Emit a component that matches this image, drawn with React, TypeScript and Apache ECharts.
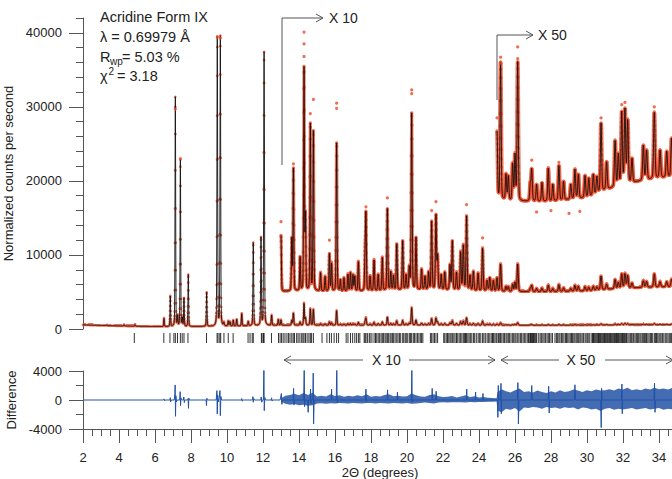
import { useEffect, useRef } from 'react';
import * as echarts from 'echarts';

const FONT = '"Liberation Sans", Arial, Helvetica, sans-serif';

// ---- Background of the powder pattern (raw counts) ----
const bgX = [2, 3, 4, 5, 6, 7, 8, 9, 10, 11, 12, 13, 14, 16, 18, 20, 22, 24, 25, 26, 28, 30, 31, 32, 33, 34, 35];
const bgY = [560, 480, 420, 370, 330, 320, 330, 350, 380, 420, 460, 500, 515, 510, 515, 530, 530, 515, 510, 505, 505, 515, 535, 550, 560, 568, 572];

// ---- Peaks: position (2θ) and height above background (raw counts) ----
const peakPos = [
  3.33, 4.28, 4.89, 6.5, 6.85, 7.13, 7.26, 7.41, 7.52, 7.61, 7.85, 8.87, 9.46, 9.63, 9.83, 10.07, 10.17, 10.35, 10.54, 10.82,
  11.18, 11.46, 11.89, 12.06, 12.48, 12.85, 13.0, 13.6, 13.69, 14.06, 14.28, 14.36, 14.63, 14.8, 15.2, 15.45, 15.69, 15.81,
  16.09, 16.3, 16.5, 16.72, 16.86, 17.0, 17.1, 17.3, 17.67, 17.72, 17.95, 18.17, 18.4, 18.63, 18.91, 19.1, 19.25, 19.43,
  19.76, 19.95, 20.13, 20.26, 20.5, 20.81, 21.0, 21.2, 21.37, 21.61, 21.7, 21.9, 22.1, 22.39, 22.52, 22.75, 22.98, 23.13,
  23.31, 23.5, 23.69, 23.95, 24.2, 24.45, 24.6, 24.8, 25.0, 25.2, 25.5, 25.63, 25.87, 26.0, 26.15, 26.85, 26.93, 27.2,
  27.5, 27.85, 28.1, 28.44, 28.7, 29.1, 29.33, 29.52, 29.89, 30.1, 30.35, 30.55, 30.78, 31.09, 31.56, 31.74, 31.93, 32.11,
  32.26, 32.5, 33.13, 33.31, 33.74, 34.06, 34.43, 34.7,
];
const peakHeight = [
  120, 200, 260, 1150, 4100, 31000, 1400, 22500, 1100, 3800, 7000, 4600, 39000, 39100, 500, 700, 600, 800, 900, 1700,
  600, 11200, 11800, 36900, 1400, 800, 750, 700, 1650, 450, 3000, 1000, 2250, 2150, 250, 200, 500, 380,
  2000, 150, 180, 230, 250, 220, 200, 400, 420, 1000, 200, 420, 220, 450, 1100, 250, 200, 620,
  660, 200, 300, 2380, 700, 280, 180, 240, 920, 1000, 450, 200, 240, 340, 660, 240, 520, 610,
  1000, 200, 260, 240, 580, 150, 180, 150, 180, 370, 70, 65, 100, 125, 375, 45, 85, 45,
  50, 90, 45, 95, 50, 40, 80, 65, 60, 50, 55, 45, 185, 75, 125, 85, 195, 200,
  170, 65, 95, 80, 180, 75, 70, 105,
];

// ---- Display sections: plain, "X 10" and "X 50" ----
const sectionStart = [2, 13, 25];
const sectionScale = [1, 10, 50];
const sectionOffset = [0, 0, -8000];

// ---- Observed points that stand apart from the calculated curve (display units) ----
const obsExtraX = [12.06, 9.46, 9.63, 7.13, 7.41, 13.69, 14.28, 14.28, 14.28, 14.63, 14.8, 16.09, 16.09, 17.72, 18.91, 20.26, 20.26, 21.37, 21.61, 23.31, 24.2, 13.0, 15.69, 25.2, 25.2, 26.15, 26.15, 25.0, 30.78, 31.93, 32.11, 33.74, 26.93, 28.44, 27.2, 28.0, 29.0, 29.6];
const obsExtraY = [42200, 39400, 39300, 29700, 23000, 22300, 40100, 38500, 36800, 29100, 31000, 30500, 29800, 16500, 17700, 32300, 31800, 16000, 17200, 16800, 12300, 14500, 12000, 36700, 35900, 38100, 36500, 28500, 28500, 30300, 30600, 30000, 22800, 22500, 15800, 16000, 15600, 15900];

// ---- Reflection positions (tick marks) ----
const reflections = [
  4.85, 6.49, 6.83, 7.05, 7.13, 7.25, 7.41, 7.51, 7.61, 7.83, 8.86, 9.45, 9.5, 9.6, 9.65, 9.83, 10.07, 10.34, 11.17, 11.28,
  11.4, 11.46, 11.91, 11.95, 12.03, 12.06, 12.47, 12.86, 12.95, 13.03, 13.12, 13.22, 13.33, 13.42, 13.5, 13.6, 13.68, 13.75,
  13.87, 13.95, 14.05, 14.15, 14.22, 14.28, 14.36, 14.45, 14.55, 14.63, 14.7, 14.8, 15.28, 15.55, 15.69, 15.8, 15.95, 16.09,
  16.2, 16.62, 16.72, 16.86, 16.98, 17.1, 17.2, 17.3, 17.38, 17.62, 17.67, 17.72, 17.8, 17.9, 17.95, 18.05, 18.17, 18.25,
  18.32, 18.4, 18.48, 18.56, 18.63, 18.7, 18.78, 18.84, 18.91, 18.98, 19.06, 19.12, 19.2, 19.26, 19.34, 19.43, 19.5, 19.58,
  19.65, 19.76, 19.82, 19.9, 19.96, 20.04, 20.13, 20.2, 20.26, 20.35, 20.42, 20.5, 20.58, 20.66, 20.74, 20.81, 20.88, 21.3,
  21.37, 21.45, 21.53, 21.61, 21.7, 22.04, 22.1, 22.18, 22.25, 22.32, 22.39, 22.45, 22.52, 22.6, 22.67, 22.75, 22.82, 22.9,
  22.98, 23.05, 23.13, 23.2, 23.25, 23.31, 23.38, 23.45, 23.52, 23.6, 23.69, 23.76, 23.85, 23.95, 24.02, 24.1, 24.2, 24.27,
  24.35, 24.45, 24.52, 24.6, 24.68, 24.75, 24.8, 24.88, 24.95, 25.0, 25.08, 25.15, 25.2, 25.27, 25.35, 25.42, 25.5, 25.56,
  25.63, 25.7, 25.78, 25.87, 25.93, 26.0, 26.06, 26.15, 26.22, 26.3, 26.37, 26.45, 26.52, 26.6, 26.68, 26.75, 26.82, 26.86,
  26.9, 26.94, 26.98, 27.03, 27.07, 27.12, 27.17, 27.21, 27.32, 27.4, 27.48, 27.55, 27.62, 27.7, 27.78, 27.85, 27.92, 28.0,
  28.08, 28.22, 28.3, 28.37, 28.44, 28.5, 28.58, 28.65, 28.72, 28.8, 28.86, 28.93, 29.0, 29.07, 29.14, 29.2, 29.27, 29.33,
  29.4, 29.46, 29.52, 29.6, 29.66, 29.73, 29.8, 29.89, 29.95, 30.02, 30.1, 30.16, 30.27, 30.31, 30.36, 30.4, 30.45, 30.5,
  30.55, 30.6, 30.64, 30.69, 30.74, 30.78, 30.83, 30.88, 30.93, 30.97, 31.02, 31.07, 31.12, 31.16, 31.21, 31.26, 31.3, 31.35,
  31.4, 31.45, 31.5, 31.54, 31.59, 31.64, 31.69, 31.74, 31.78, 31.83, 31.88, 31.93, 31.97, 32.02, 32.07, 32.11, 32.16, 32.2,
  32.27, 32.34, 32.41, 32.48, 32.55, 32.6, 32.67, 32.74, 32.8, 32.87, 32.94, 33.0, 33.07, 33.13, 33.2, 33.26, 33.31, 33.38,
  33.45, 33.52, 33.58, 33.65, 33.74, 33.8, 33.86, 33.93, 34.0, 34.06, 34.12, 34.2, 34.27, 34.35, 34.43, 34.5, 34.57, 34.63,
  34.7, 34.77,
];

// ---- Difference curve: spikes (display units) ----
const diffX = [
  2.0, 6.47, 6.5, 6.53, 6.56, 6.83, 6.85, 6.87, 6.9, 7.07, 7.1, 7.12, 7.14, 7.16, 7.19, 7.23, 7.37, 7.4, 7.42, 7.44, 7.47,
  7.58, 7.6, 7.63, 7.65, 7.82, 7.84, 7.86, 7.88, 7.91, 8.84, 8.86, 8.88, 8.91, 9.4, 9.44, 9.46, 9.48, 9.52, 9.57, 9.61, 9.63,
  9.66, 9.7, 10.8, 10.82, 10.84, 10.86, 11.42, 11.44, 11.46, 11.49, 11.52, 11.88, 11.9, 11.93, 11.97, 12.02, 12.05, 12.07,
  12.1, 12.14, 12.45, 12.48, 12.5, 12.53, 12.95, 13.02, 13.05, 13.08, 13.67, 13.7, 13.72, 13.75, 14.26, 14.29, 14.31, 14.34,
  14.48, 14.51, 14.53, 14.62, 14.64, 14.66, 14.68, 14.77, 14.79, 14.81, 14.84, 15.79, 15.81, 15.83, 16.07, 16.1, 16.12, 16.15,
  17.69, 17.72, 17.74, 17.76, 18.89, 18.92, 18.94, 19.45, 19.47, 19.49, 20.24, 20.27, 20.29, 20.32, 21.38, 21.4, 21.42, 21.6,
  21.62, 21.64, 23.29, 23.32, 23.34, 23.79, 23.81, 23.83, 24.2, 24.22, 24.24, 25.02, 25.05, 25.07, 25.1, 25.2, 25.22, 25.24,
  25.26, 26.13, 26.16, 26.19, 26.22, 26.9, 26.93, 26.96, 27.85, 27.87, 27.9, 27.92, 29.3, 29.33, 29.36, 30.76, 30.79, 30.81,
  30.84, 31.91, 31.94, 31.96, 31.98, 33.72, 33.75, 33.78, 33.8, 35.0,
];
const diffY = [
  0, 0, 150, -120, 0, 0, 320, -260, 0, 0, 700, 2070, -2250, 600, -250, 0, 0, 1150, -780, 300, 0,
  0, 420, -350, 0, 0, 200, -1150, 250, 0, 0, -780, 250, 0, 0, 1290, -1930, 700, -250, 350, 1300, -2160,
  500, 0, 0, 200, -160, 0, 0, 460, -300, 200, 0, 0, 420, -300, 0, 0, 4650, -1470,
  350, 0, 0, 300, -150, 0, 0, 900, -600, 0, 0, 1600, -700, 0, 0, 4780, -900, 0,
  0, -1700, 0, 0, 1500, -500, 0, 0, 3700, -3300, 0, 0, 1500, 0, 0, 5150, -400, 0,
  0, 1500, -300, 0, 0, 1400, 0, 0, 1100, 0, 0, 4700, -300, 0, 0, 1600, 0, 0,
  1200, 0, 0, 1500, 0, 0, 1100, 0, 0, 900, 0, 0, -2400, 2000, 0, 0, 2300, -1900,
  0, 0, 2400, -3300, 0, 0, 2000, 0, 0, 1900, -1800, 0, 0, 2100, 0, 0, -3800, 1600,
  0, 0, 2200, -1900, 0, 0, 2300, -1700, 0, 0,
];

// ---- Difference curve: noise envelope in the X 10 and X 50 ranges (display units) ----
const bandX = [
  13.0, 13.25, 13.5, 13.75, 14.0, 14.25, 14.5, 14.75, 15.0, 15.25, 15.5, 15.75, 16.0, 16.25, 16.5, 16.75, 17.0, 17.25, 17.5,
  17.75, 18.0, 18.25, 18.5, 18.75, 19.0, 19.25, 19.5, 19.75, 20.0, 20.25, 20.5, 20.75, 21.0, 21.25, 21.5, 21.75, 22.0, 22.25,
  22.5, 22.75, 23.0, 23.25, 23.5, 23.75, 24.0, 24.25, 24.5, 24.75, 24.98, 25.02, 25.25, 25.5, 25.75, 26.0, 26.25, 26.5, 26.75,
  27.0, 27.25, 27.5, 27.75, 28.0, 28.25, 28.5, 28.75, 29.0, 29.25, 29.5, 29.75, 30.0, 30.25, 30.5, 30.75, 31.0, 31.25, 31.5,
  31.75, 32.0, 32.25, 32.5, 32.75, 33.0, 33.25, 33.5, 33.75, 34.0, 34.25, 34.5, 34.75, 35.0,
];
const bandHi = [
  250, 600, 700, 850, 650, 950, 700, 1000, 500, 600, 480, 800, 550, 650, 450, 600, 480, 650, 520,
  800, 450, 560, 480, 700, 800, 520, 600, 480, 520, 880, 640, 480, 440, 680, 800, 520, 400, 440,
  560, 360, 480, 640, 400, 520, 360, 400, 320, 280, 250, 1100, 1500, 1200, 1050, 1350, 1600, 1100, 1200,
  1050, 1300, 1100, 950, 1200, 1050, 1350, 1100, 1200, 1450, 1300, 1100, 1350, 1200, 1450, 1300, 1350, 1500, 1300,
  1600, 1450, 1700, 1350, 1500, 1350, 1600, 1450, 1700, 1500, 1600, 1450, 1700, 1500,
];
const bandLo = [
  -250, -520, -650, -560, -720, -650, -800, -720, -480, -440, -520, -440, -480, -400, -440, -480, -400, -440, -480,
  -400, -400, -480, -400, -440, -480, -400, -440, -480, -400, -520, -480, -400, -360, -400, -480, -360, -320, -360,
  -320, -300, -320, -360, -280, -320, -280, -260, -240, -240, -200, -1450, -1700, -1200, -1350, -1100, -1600, -1050, -1100,
  -950, -1050, -1200, -950, -1100, -1050, -1200, -1000, -1100, -1050, -1300, -1050, -1100, -1300, -1200, -1500, -1200, -1100, -1350,
  -1200, -1300, -1200, -1100, -1300, -1200, -1100, -1300, -1200, -1100, -1350, -1200, -1300, -1200,
];

// ---- Axis ticks ----
const countTicks = [0, 10000, 20000, 30000, 40000];
const diffTicks = [-4000, 0, 4000];
const angleTicks = [2, 4, 6, 8, 10, 12, 14, 16, 18, 20, 22, 24, 26, 28, 30, 32, 34];

const X_MIN = 2;
const X_MAX = 35;
const STEP = 0.005;
const ETA = 0.22;

function bgAt(x: number): number {
  for (let i = 0; i < bgX.length - 1; i++) {
    if (x <= bgX[i + 1]) {
      const t = (x - bgX[i]) / (bgX[i + 1] - bgX[i]);
      return bgY[i] + t * (bgY[i + 1] - bgY[i]);
    }
  }
  return bgY[bgY.length - 1];
}

function intensity(x: number): number {
  let s = bgAt(x);
  for (let i = 0; i < peakPos.length; i++) {
    const d = x - peakPos[i];
    if (d > 1.5 || d < -1.5) continue;
    const w = 0.014 + 0.0009 * peakPos[i];
    const u = d / w;
    s += peakHeight[i] * ((1 - ETA) * Math.exp(-Math.LN2 * u * u) + ETA / (1 + u * u));
  }
  return s;
}

function sectionData(k: number): number[][] {
  const out: number[][] = [];
  const n = Math.round((X_MAX - sectionStart[k]) / STEP);
  for (let i = 0; i <= n; i++) {
    const x = +(sectionStart[k] + i * STEP).toFixed(4);
    out.push([x, intensity(x) * sectionScale[k] + sectionOffset[k]]);
  }
  return out;
}

const RED = '#ee4826';
const BLUE = '#2252a6';
const AXIS = '#555555';
const TEXT = '#222222';

export default function App() {
  const ref = useRef<HTMLDivElement>(null);

  useEffect(() => {
    if (!ref.current) return;
    const chart = echarts.init(ref.current, null, { renderer: 'svg' });

    const sections = [0, 1, 2].map((k) => sectionData(k));
    const obsSize = [2.6, 3.2, 3.2];

    const series: any[] = [];
    sections.forEach((data, k) => {
      if (k > 0) {
        series.push({
          type: 'line', xAxisIndex: 0, yAxisIndex: 0, data, showSymbol: false, silent: true,
          lineStyle: { color: RED, width: k === 2 ? 4 : 3, opacity: 0.75 }, z: 1,
        });
      }
      series.push({
        type: 'scatter', xAxisIndex: 0, yAxisIndex: 0, data, symbol: 'circle', symbolSize: obsSize[k],
        large: true, largeThreshold: 100, progressive: 0, itemStyle: { color: RED }, silent: true, z: 2,
      });
      series.push({
        type: 'line', xAxisIndex: 0, yAxisIndex: 0, data, showSymbol: false, silent: true,
        lineStyle: { color: '#111111', width: 0.9 }, z: 3,
      });
    });
    series.push({
      type: 'scatter', xAxisIndex: 0, yAxisIndex: 0,
      data: obsExtraX.map((x, i) => [x, obsExtraY[i]]),
      symbolSize: 3.2, itemStyle: { color: RED }, silent: true, z: 4,
    });
    series.push({
      type: 'scatter', xAxisIndex: 1, yAxisIndex: 2,
      data: reflections.map((x) => [x, 0.5]),
      symbol: 'rect', symbolSize: [1, 10], itemStyle: { color: '#000000' }, silent: true,
    });
    series.push({
      type: 'custom', xAxisIndex: 2, yAxisIndex: 3, data: [[bandX[0], 0]], clip: true, silent: true,
      renderItem: (_p: any, api: any) => {
        const pts: number[][] = [];
        for (let i = 0; i < bandX.length; i++) pts.push(api.coord([bandX[i], bandHi[i]]));
        for (let i = bandX.length - 1; i >= 0; i--) pts.push(api.coord([bandX[i], bandLo[i]]));
        return { type: 'polygon', shape: { points: pts }, style: { fill: BLUE, opacity: 0.85 } };
      },
    });
    series.push({
      type: 'line', xAxisIndex: 2, yAxisIndex: 3,
      data: diffX.map((x, i) => [x, diffY[i]]),
      showSymbol: false, silent: true, lineStyle: { color: BLUE, width: 1 },
    });

    const labelStyle = { fontFamily: FONT, fontSize: 13, color: TEXT, formatter: (v: number) => String(v) };
    const chevron = (x: number, y: number, dir: number) => ({
      type: 'polyline',
      shape: { points: [[x - dir * 7, y - 4], [x, y], [x - dir * 7, y + 4]] },
      style: { stroke: AXIS, lineWidth: 1, fill: 'none' },
    });
    const seg = (pts: number[][]) => ({
      type: 'polyline', shape: { points: pts }, style: { stroke: AXIS, lineWidth: 1, fill: 'none' },
    });
    const txt = (x: number, y: number, text: string, size: number, align = 'left') => ({
      type: 'text', x, y,
      style: { text, fill: TEXT, fontFamily: FONT, fontSize: size, align, verticalAlign: 'middle' },
    });

    chart.setOption({
      animation: false,
      backgroundColor: '#ffffff',
      grid: [
        { left: 83, top: 18, width: 594, height: 311, outerBoundsMode: 'none', containLabel: false },
        { left: 83, top: 333, width: 594, height: 10, outerBoundsMode: 'none', containLabel: false },
        { left: 83, top: 371, width: 594, height: 58, outerBoundsMode: 'none', containLabel: false },
      ],
      xAxis: [
        { gridIndex: 0, type: 'value', min: X_MIN, max: X_MAX, show: false },
        { gridIndex: 1, type: 'value', min: X_MIN, max: X_MAX, show: false },
        {
          gridIndex: 2, type: 'value', min: X_MIN, max: X_MAX, interval: 2, position: 'bottom',
          axisLine: { show: true, onZero: false, lineStyle: { color: AXIS, width: 1 } },
          axisTick: { show: true, length: 14, customValues: angleTicks, lineStyle: { color: AXIS } },
          axisLabel: { ...labelStyle, margin: 22, customValues: angleTicks },
          splitLine: { show: false },
          name: '2Θ (degrees)', nameLocation: 'middle', nameGap: 37,
          nameTextStyle: { fontFamily: FONT, fontSize: 13, color: TEXT },
        },
        {
          gridIndex: 2, type: 'value', min: X_MIN, max: X_MAX, interval: 0.5, position: 'bottom',
          axisLine: { show: false, onZero: false }, axisLabel: { show: false }, splitLine: { show: false },
          axisTick: { show: true, length: 7, lineStyle: { color: AXIS } },
        },
      ],
      yAxis: [
        {
          gridIndex: 0, type: 'value', min: 0, max: 42000, interval: 10000, position: 'left',
          axisLine: { show: true, onZero: false, lineStyle: { color: AXIS, width: 1 } },
          axisTick: { show: true, length: 14, customValues: countTicks, lineStyle: { color: AXIS } },
          axisLabel: { ...labelStyle, margin: 21, customValues: countTicks },
          splitLine: { show: false },
          name: 'Normalized counts per second', nameLocation: 'middle', nameGap: 47, nameRotate: 90,
          nameTextStyle: { fontFamily: FONT, fontSize: 13, color: TEXT },
        },
        {
          gridIndex: 0, type: 'value', min: 0, max: 42000, interval: 2000, position: 'left',
          axisLine: { show: false, onZero: false }, axisLabel: { show: false }, splitLine: { show: false },
          axisTick: { show: true, length: 7, lineStyle: { color: AXIS } },
        },
        { gridIndex: 1, type: 'value', min: 0, max: 1, show: false },
        {
          gridIndex: 2, type: 'value', min: -4000, max: 4000, interval: 4000, position: 'left',
          axisLine: { show: true, onZero: false, lineStyle: { color: AXIS, width: 1 } },
          axisTick: { show: true, length: 14, customValues: diffTicks, lineStyle: { color: AXIS } },
          minorTick: { show: true, splitNumber: 2, length: 7, lineStyle: { color: AXIS } },
          axisLabel: { ...labelStyle, margin: 21, customValues: diffTicks },
          splitLine: { show: false }, minorSplitLine: { show: false },
          name: 'Difference', nameLocation: 'middle', nameGap: 44, nameRotate: 90,
          nameTextStyle: { fontFamily: FONT, fontSize: 13, color: TEXT },
        },
      ],
      graphic: [
        txt(100, 17, 'Acridine Form IX', 14.5),
        txt(100, 37, 'λ = 0.69979 Å', 14.5),
        txt(100, 57, 'R', 14.5),
        txt(110, 61, 'wp', 10),
        txt(122, 57, '= 5.03 %', 14.5),
        txt(100, 76, 'χ', 14.5),
        txt(108.5, 71, '2', 10),
        txt(117, 76, '= 3.18', 14.5),
        seg([[282, 165], [282, 18], [323, 18]]),
        chevron(323, 18, 1),
        txt(329, 18, 'X 10', 14),
        seg([[497, 100], [497, 35], [533, 35]]),
        chevron(533, 35, 1),
        txt(538, 35, 'X 50', 14),
        seg([[284, 360], [363, 360]]),
        chevron(284, 360, -1),
        txt(386.5, 360, 'X 10', 14, 'center'),
        seg([[409, 360], [495, 360]]),
        chevron(495, 360, 1),
        seg([[501, 360], [559, 360]]),
        chevron(501, 360, -1),
        txt(581, 360, 'X 50', 14, 'center'),
        seg([[605, 360], [673, 360]]),
        chevron(673, 360, 1),
      ],
      series,
    });

    return () => chart.dispose();
  }, []);

  return <div ref={ref} style={{ position: 'fixed', left: 0, top: 0, width: 672, height: 479, background: '#fff' }} />;
}
